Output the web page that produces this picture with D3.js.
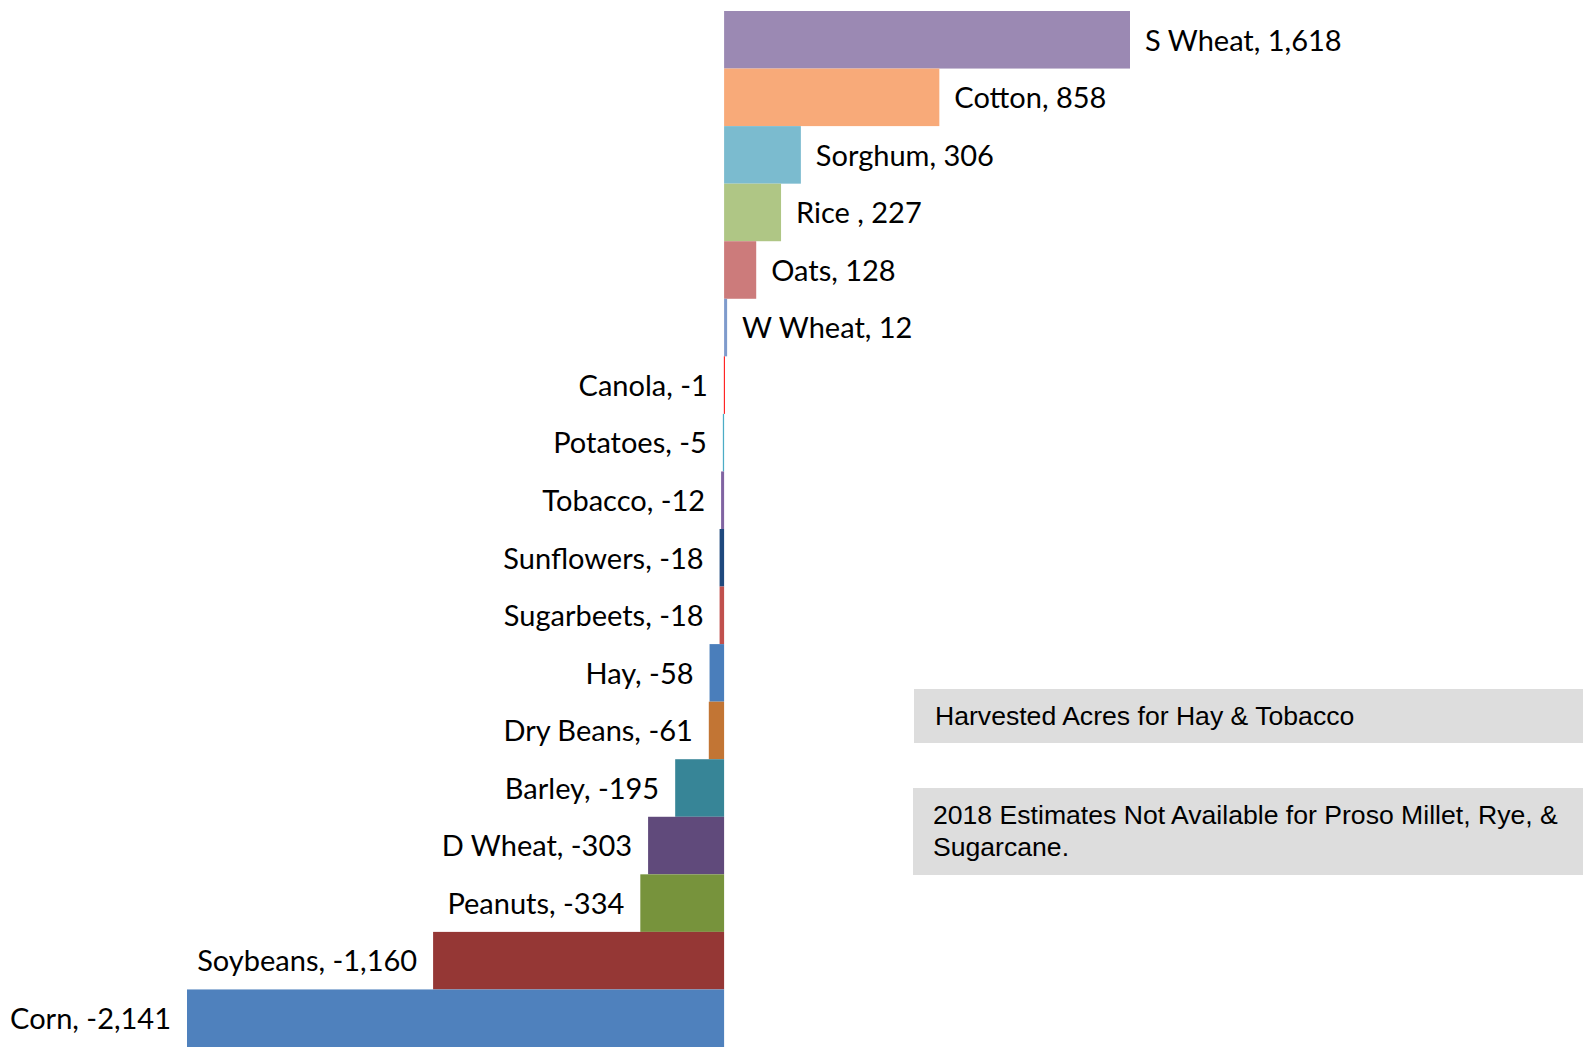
<!DOCTYPE html>
<html>
<head>
<meta charset="utf-8">
<script src="https://cdn.jsdelivr.net/npm/d3@7"></script>
<style>
  html, body { margin: 0; padding: 0; background: #fff; }
  svg { display: block; }
</style>
</head>
<body>
<svg id="chart" width="1583" height="1048"></svg>
<script>
const categories = ["S Wheat", "Cotton", "Sorghum", "Rice ", "Oats", "W Wheat", "Canola", "Potatoes", "Tobacco", "Sunflowers", "Sugarbeets", "Hay", "Dry Beans", "Barley", "D Wheat", "Peanuts", "Soybeans", "Corn"];
const values = [1618, 858, 306, 227, 128, 12, -1, -5, -12, -18, -18, -58, -61, -195, -303, -334, -1160, -2141];
const colors = ["#9B89B3", "#F8AA79", "#7BBBCF", "#AFC685", "#CC7B7B", "#7F9BCC", "#FF0000", "#4BACC6", "#8064A2", "#1F497D", "#C0504D", "#4A7EBB", "#C27534", "#378597", "#604A7B", "#77933C", "#953735", "#4F81BD"];
const notes = [
  ["Harvested Acres for Hay & Tobacco"],
  ["2018 Estimates Not Available for Proso Millet, Rye, &", "Sugarcane."]
];

const data = categories.map((c, i) => ({ name: c, value: values[i], color: colors[i] }));
const locale = d3.formatLocale({ decimal: ".", thousands: ",", grouping: [3], currency: ["$", ""], minus: "-" });
const fmt = locale.format(",");

const svg = d3.select("#chart");

const x = d3.scaleLinear().domain([-2141, 1618]).range([187, 1130]);
const y = d3.scaleBand().domain(categories).range([11, 1047]).padding(0);

// bars
svg.append("g").selectAll("rect")
  .data(data)
  .join("rect")
  .attr("x", d => Math.min(x(0), x(d.value)))
  .attr("y", d => y(d.name))
  .attr("width", d => Math.max(1, Math.abs(x(d.value) - x(0))))
  .attr("height", y.bandwidth())
  .attr("fill", d => d.color);

// labels
svg.append("g").selectAll("text")
  .data(data)
  .join("text")
  .attr("x", d => d.value >= 0 ? x(d.value) + 15 : x(d.value) - 16)
  .attr("y", d => y(d.name) + y.bandwidth() / 2)
  .attr("dy", "0.37em")
  .attr("text-anchor", d => d.value >= 0 ? "start" : "end")
  .attr("font-family", "Lato, 'Open Sans', sans-serif")
  .attr("font-size", 29)
  .attr("fill", "#000")
  .text(d => d.name + ", " + fmt(d.value));

// note boxes
const boxes = [
  { x: 914, y: 689, w: 669, h: 54, tx: 935, ty: 725, lines: notes[0] },
  { x: 913, y: 788, w: 670, h: 87, tx: 933, ty: 824, lines: notes[1] }
];
const bg = svg.append("g");
boxes.forEach(b => {
  bg.append("rect").attr("x", b.x).attr("y", b.y).attr("width", b.w).attr("height", b.h).attr("fill", "#DDDDDD");
  const t = bg.append("text")
    .attr("x", b.tx).attr("y", b.ty)
    .attr("font-family", "'Liberation Sans', Arial, sans-serif")
    .attr("font-size", 26.6)
    .attr("fill", "#000");
  b.lines.forEach((l, i) => {
    t.append("tspan").attr("x", b.tx).attr("dy", i === 0 ? 0 : 32).text(l);
  });
});
</script>
</body>
</html>
